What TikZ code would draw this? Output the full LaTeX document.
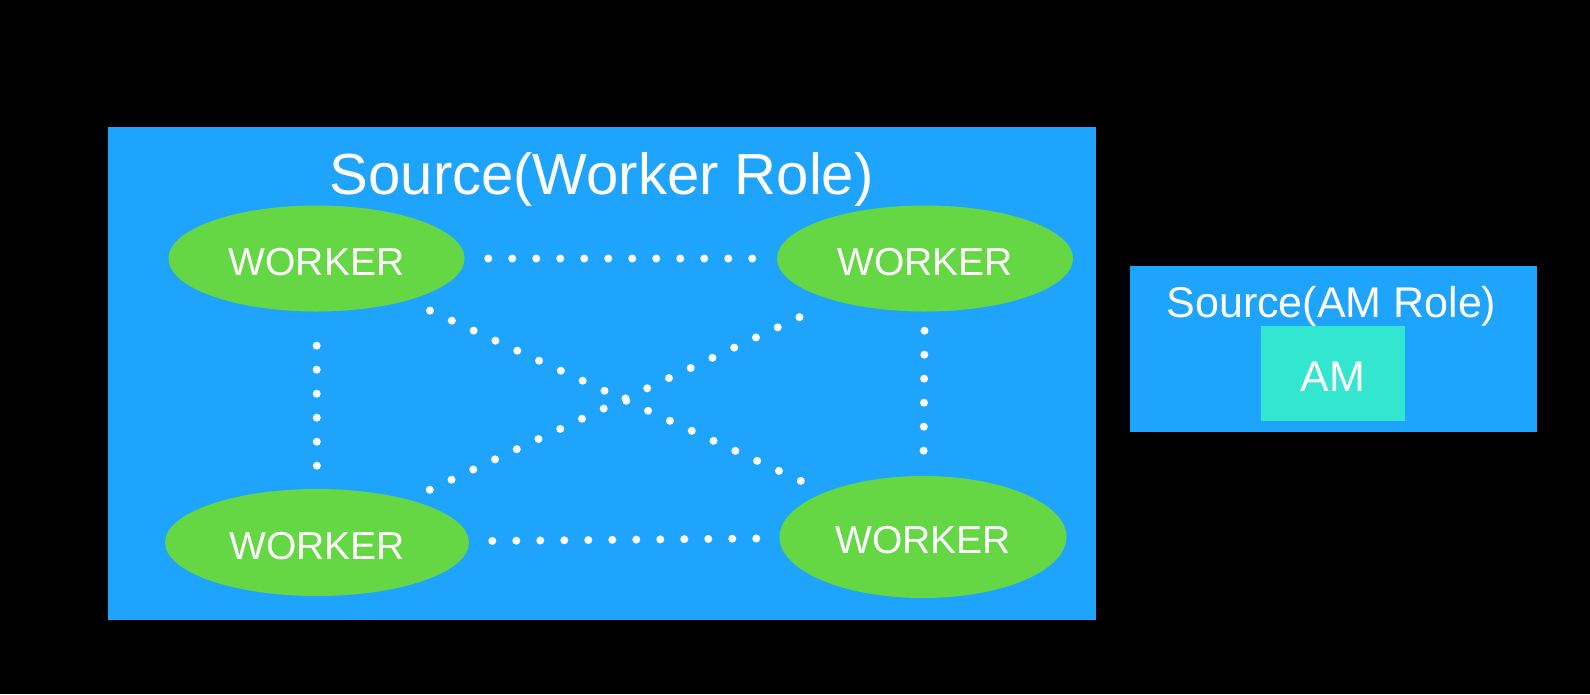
\documentclass[tikz,border=0pt]{standalone}
\usepackage{fontspec}
\setmainfont{Liberation Sans}
\usetikzlibrary{shapes.geometric}
\definecolor{boxblue}{HTML}{1EA4FC}
\definecolor{wgreen}{HTML}{66D744}
\definecolor{amcyan}{HTML}{33E6D0}
\tikzset{
  rolebox/.style={rectangle, fill=boxblue, draw=none, inner sep=0pt},
  worker/.style={ellipse, fill=wgreen, draw=none, inner sep=0pt, text=white,
    text height=33pt, text depth=0pt,
    font=\fontsize{39}{41}\selectfont},
  ambox/.style={rectangle, fill=amcyan, draw=none, inner sep=0pt, text=white,
    text height=36pt, text depth=0pt,
    font=\fontsize{43}{45}\selectfont},
  titletext/.style={anchor=base, text=white, inner sep=0pt},
  dotline/.style={draw=white, line width=8pt, line cap=round, dash pattern=on 0pt off 24pt},
}
\begin{document}
\begin{tikzpicture}[x=1pt,y=-1pt]
\fill[black] (0,0) rectangle (1590,694);
\useasboundingbox (0,0) rectangle (1590,694);

\node[rolebox, minimum width=988.5pt, minimum height=493pt] (wrole) at (601.75,373.5) {};
\node[titletext, font=\fontsize{58}{60}\selectfont] (wtitle) at (601.75,194) {Source(Worker Role)};

\node[worker, minimum width=296pt, minimum height=106pt] (w1) at (316.5,258.5) {WORKER};
\node[worker, minimum width=296pt, minimum height=106pt] (w2) at (925,258.5) {WORKER};
\node[worker, minimum width=304pt, minimum height=107pt] (w3) at (317,542.5) {WORKER};
\node[worker, minimum width=287pt, minimum height=122pt] (w4) at (923,537) {WORKER};

\draw[dotline, shorten <=171.8pt, shorten >=172.2pt] (w1.center) -- (w2.center);
\draw[dotline, shorten <=175.3pt, shorten >=166.2pt] (w3.center) -- (w4.center);
\draw[dotline, shorten <=87.2pt, shorten >=76pt] (w1.center) -- (w3.center);
\draw[dotline, shorten <=72.2pt, shorten >=85.5pt] (w2.center) -- (w4.center);
\draw[dotline, shorten <=124.9pt, shorten >=133.7pt] (w1.center) -- (w4.center);
\draw[dotline, shorten <=138.6pt, shorten >=123.5pt] (w2.center) -- (w3.center);

\node[rolebox, minimum width=407pt, minimum height=166pt] (amrole) at (1333.5,349) {};
\node[titletext, font=\fontsize{43}{45}\selectfont] (amtitle) at (1331.5,317) {Source(AM Role)};
\node[ambox, minimum width=144pt, minimum height=95pt] (am) at (1333,373.5) {AM};
\end{tikzpicture}
\end{document}
